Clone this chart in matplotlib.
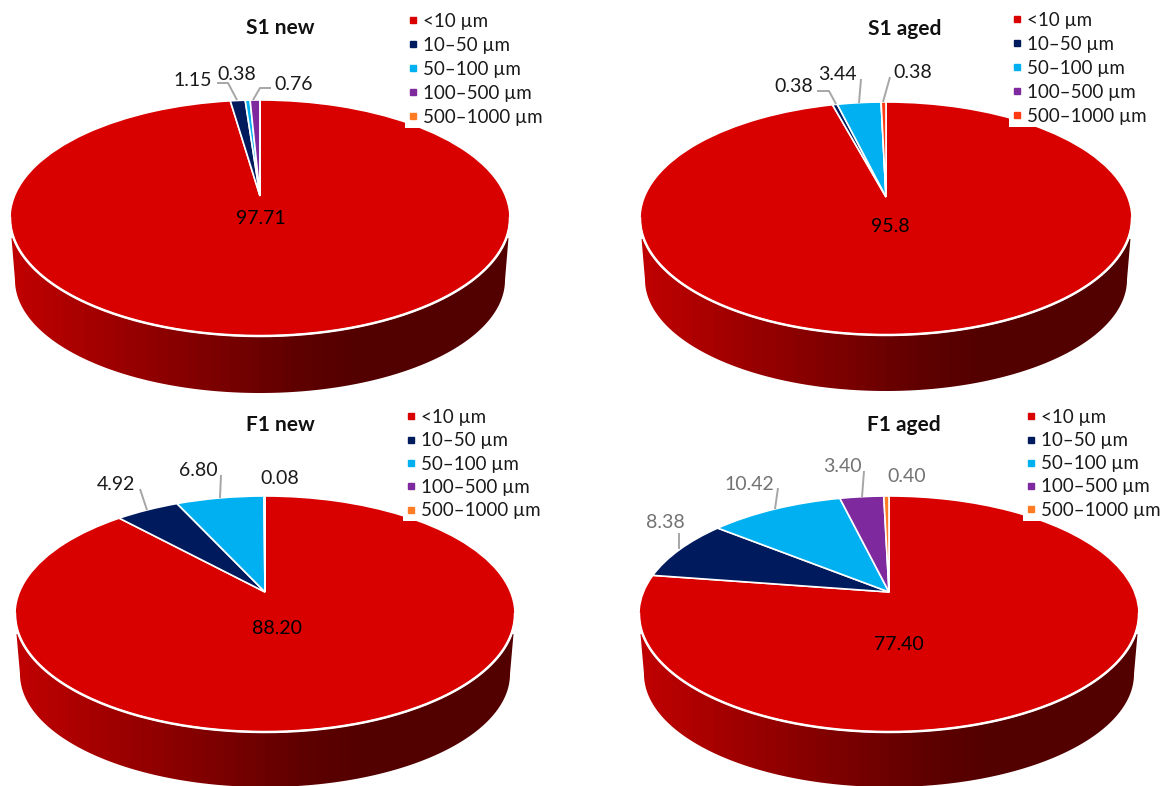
import numpy as np
import matplotlib
matplotlib.use('Agg')
import matplotlib.pyplot as plt
from matplotlib.colors import LinearSegmentedColormap
from matplotlib.lines import Line2D
from matplotlib.patches import Polygon
from matplotlib.transforms import Affine2D, Transform

plt.rcParams['font.family'] = ['Lato', 'DejaVu Sans']

W, H = 1168, 786

size_classes = ['<10 µm', '10–50 µm', '50–100 µm', '100–500 µm', '500–1000 µm']

s1_new = [97.71, 1.15, 0.38, 0.76, 0.0]
s1_aged = [95.8, 0.38, 3.44, 0.0, 0.38]
f1_new = [88.20, 4.92, 6.80, 0.08, 0.0]
f1_aged = [77.40, 8.38, 10.42, 3.40, 0.40]

s1_new_labels = ['97.71', '1.15', '0.38', '0.76']
s1_aged_labels = ['95.8', '0.38', '3.44', '0.38']
f1_new_labels = ['88.20', '4.92', '6.80', '0.08']
f1_aged_labels = ['77.40', '8.38', '10.42', '3.40', '0.40']

RED, NAVY, CYAN, PURPLE, ORANGE = '#D90000', '#001A5E', '#00B0F0', '#7E2A9E', '#FF7C24'
colors = [RED, NAVY, CYAN, PURPLE, ORANGE]
colors_s1_aged = [RED, NAVY, CYAN, PURPLE, '#FF3A12']

wall_cmap = LinearSegmentedColormap.from_list(
    'wall', [(0, '#BE0000'), (0.58, '#5E0000'), (0.7, '#520000'), (1, '#520000')], N=48)


class TiltedDisc(Transform):
    """Maps the unit disc onto itself and moves its centre along y, for the perspective look."""
    input_dims = 2
    output_dims = 2

    def __init__(self, shift):
        super().__init__()
        self.shift = shift

    def transform_non_affine(self, values):
        x, y = np.asarray(values).T
        d = 1 + self.shift * y
        return np.column_stack([x * np.sqrt(1 - self.shift ** 2) / d, (y + self.shift) / d])


def draw_panel(ax, title, title_xy, values, cols, geom, labels, label_xy, leaders,
               legend_xy, spacing, label_color='#1A1A1A'):
    cx, cy, a, b, apex_y, wall_bottom = geom

    # side wall: gradient strip, then a white U-shaped mask cuts the lower disc outline
    wall_top = cy + 20
    edges = np.linspace(cx - a, cx + a, 201)
    grad = (edges[:-1] - edges[0]) / (2 * a)
    ax.pcolormesh(edges, [wall_top, wall_bottom + 2], grad[None, :], cmap=wall_cmap,
                  vmin=0, vmax=1, zorder=0.5)

    lower_cy = cy + (wall_bottom - (cy + b)) + 5
    th = np.linspace(0, np.pi, 200)
    xs = cx + (a - 5) * np.cos(th)
    ys = lower_cy + (b - 5) * np.sin(th)
    mask = np.column_stack([
        np.r_[cx - a - 3, cx + a + 3, cx + a + 3, cx + a - 1.5, xs, cx - a + 1.5, cx - a - 3],
        np.r_[wall_bottom + 4, wall_bottom + 4, wall_top, wall_top, ys, wall_top, wall_top]])
    ax.add_patch(Polygon(mask, closed=True, fc='white', ec='none', zorder=0.6))

    # top face
    wedges, _ = ax.pie(values, colors=cols, startangle=90, counterclock=False,
                       wedgeprops={'edgecolor': 'white', 'linewidth': 1.2})
    to_panel = (TiltedDisc((cy - apex_y) / b)
                + Affine2D().scale(a, -b).translate(cx, cy) + ax.transData)
    for w in wedges:
        w.set_transform(to_panel)
        w.set_clip_on(False)

    # white rim along the front edge
    ax.plot(cx + a * np.cos(th), cy + b * np.sin(th), color='white', lw=1.8, zorder=3)

    for pts in leaders:
        ax.plot(*zip(*pts), color='#A6A6A6', lw=1.4, zorder=3, solid_capstyle='butt')

    for txt, (x, y), col in zip(labels, label_xy, ['#000000'] + [label_color] * 4):
        ax.text(x, y + 2, txt, ha='center', va='center', fontsize=14, color=col, zorder=4)

    ax.text(title_xy[0], title_xy[1] + 1, title, ha='center', va='center',
            fontsize=15, fontweight='bold', color='#111111', zorder=4)

    handles = [Line2D([], [], ls='none', marker='s', ms=4.8, mfc=c, mec=c) for c in cols]
    leg = ax.legend(handles, size_classes, loc='upper left', bbox_to_anchor=legend_xy,
                    bbox_transform=ax.transData, fontsize=13.5, frameon=True, framealpha=1,
                    facecolor='white', edgecolor='none', fancybox=False, borderpad=0.1,
                    borderaxespad=0, handlelength=0.6, handletextpad=0.25, labelspacing=spacing,
                    labelcolor='#1A1A1A')
    ax.add_artist(leg)


fig = plt.figure(figsize=(W / 100, H / 100), dpi=100)
ax = fig.add_axes([0, 0, 1, 1])

draw_panel(ax, 'S1 new', (280, 27), s1_new, colors,
           (260, 218, 250, 118, 196, 393),
           s1_new_labels, [(261, 217), (193, 78), (237, 73), (294, 83)],
           [[(217, 83), (228, 83), (237, 100)], [(271, 88), (260, 88), (253, 100)]],
           (405, 11), 0.37)

draw_panel(ax, 'S1 aged', (905, 28), s1_aged, colors_s1_aged,
           (886, 218.5, 246, 116.5, 197, 391),
           s1_aged_labels, [(890, 224), (794, 85), (837, 73), (913, 71)],
           [[(817, 91), (829, 91), (836, 104)], [(861, 79), (859, 103)], [(890, 77), (883, 102)]],
           (1009, 10), 0.37)

draw_panel(ax, 'F1 new', (280, 424), f1_new, colors,
           (265, 614, 250, 118, 592, 787),
           f1_new_labels, [(277, 627), (116, 483), (198, 469), (280, 476)],
           [[(140, 489), (147, 510)], [(221, 475), (220, 498)]],
           (403, 407), 0.34)

draw_panel(ax, 'F1 aged', (904, 424), f1_aged, colors,
           (889, 614, 250, 118, 592, 787),
           f1_aged_labels, [(899, 642), (665, 521), (749, 482), (842, 464), (907, 474)],
           [[(679, 533), (679, 549)], [(778, 488), (775, 509)], [(864, 471), (862, 497)]],
           (1023, 407), 0.33, label_color='#737373')

ax.set_aspect('auto')
ax.set_xlim(0, W)
ax.set_ylim(H, 0)
ax.axis('off')

fig.savefig('out.png', dpi=100)
